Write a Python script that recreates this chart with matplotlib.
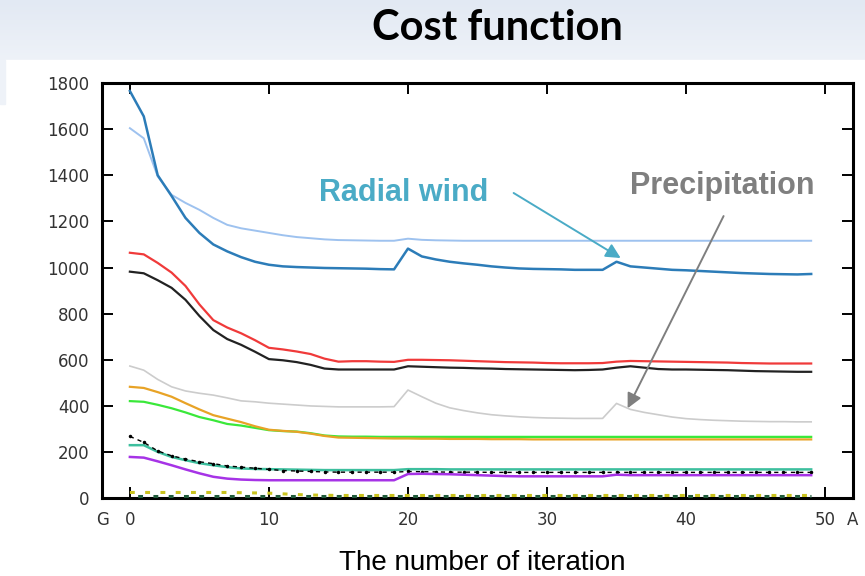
import numpy as np
import matplotlib.pyplot as plt
from matplotlib.patches import Rectangle

# iterations 0..49
iters = list(range(50))

radial_wind = [1765, 1655, 1400, 1310, 1215, 1150, 1100, 1070, 1045, 1025,
               1012, 1005, 1002, 1000, 998, 997, 996, 995, 993, 992,
               1082, 1048, 1035, 1025, 1018, 1012, 1005, 1000, 996, 994,
               993, 992, 990, 990, 990, 1025, 1005, 1000, 995, 990,
               988, 985, 982, 979, 976, 974, 972, 971, 970, 972]
light_blue = [1604, 1560, 1395, 1315, 1280, 1250, 1215, 1185, 1170, 1160,
              1150, 1140, 1132, 1127, 1122, 1119, 1118, 1117, 1116, 1116,
              1125, 1120, 1118, 1117, 1116, 1116, 1116, 1116, 1116, 1116,
              1116, 1116, 1116, 1116, 1116, 1116, 1116, 1116, 1116, 1116,
              1116, 1116, 1116, 1116, 1116, 1116, 1116, 1116, 1116, 1116]
red = [1064, 1057, 1020, 978, 920, 840, 772, 740, 715, 685,
       652, 645, 636, 625, 605, 592, 594, 594, 592, 591,
       600, 600, 599, 598, 596, 594, 592, 590, 589, 588,
       586, 585, 585, 585, 586, 592, 595, 594, 593, 592,
       591, 590, 589, 588, 586, 585, 584, 584, 584, 584]
black = [982, 975, 945, 912, 860, 790, 729, 690, 665, 635,
         603, 598, 590, 578, 562, 558, 558, 558, 558, 558,
         572, 570, 568, 566, 565, 563, 562, 560, 559, 558,
         557, 556, 555, 556, 558, 566, 572, 566, 560, 558,
         558, 557, 556, 555, 553, 551, 550, 549, 548, 548]
precipitation = [573, 555, 515, 483, 465, 455, 447, 435, 422, 418,
                 412, 408, 404, 400, 398, 396, 396, 396, 396, 397,
                 469, 440, 412, 392, 380, 370, 362, 357, 353, 350,
                 348, 347, 346, 346, 346, 411, 385, 372, 362, 352,
                 345, 341, 338, 336, 334, 333, 332, 332, 331, 331]
orange = [483, 478, 460, 440, 412, 385, 360, 345, 330, 312,
          297, 292, 288, 280, 270, 263, 262, 261, 260, 259,
          259, 258, 258, 257, 257, 257, 256, 256, 256, 255,
          255, 255, 255, 255, 255, 255, 255, 255, 255, 255,
          255, 255, 255, 255, 255, 255, 255, 255, 255, 255]
green = [421, 418, 405, 390, 372, 352, 338, 322, 315, 305,
         295, 291, 289, 282, 272, 268, 267, 267, 266, 266,
         266, 266, 266, 266, 266, 266, 266, 266, 266, 266,
         266, 266, 266, 266, 266, 266, 266, 266, 266, 266,
         266, 266, 266, 266, 266, 266, 266, 266, 266, 266]
teal = [230, 230, 201, 179, 165, 152, 143, 135, 129, 127,
        126, 125, 124, 123, 122, 122, 122, 122, 122, 122,
        126, 126, 126, 125, 125, 125, 125, 125, 125, 125,
        125, 125, 125, 125, 125, 125, 125, 125, 125, 125,
        125, 125, 125, 125, 125, 125, 125, 125, 125, 125]
dotted = [268, 242, 205, 184, 170, 158, 150, 140, 135, 130,
          125, 120, 118, 116, 114, 113, 113, 113, 113, 113,
          116, 115, 114, 113, 113, 113, 112, 112, 112, 112,
          112, 112, 112, 112, 112, 112, 112, 112, 112, 112,
          112, 112, 112, 112, 112, 112, 112, 112, 112, 112]
purple = [179, 176, 160, 143, 125, 108, 93, 85, 81, 79,
          78, 78, 78, 78, 78, 78, 78, 78, 78, 78,
          105, 106, 105, 104, 102, 100, 98, 96, 95, 95,
          95, 95, 95, 95, 95, 102, 100, 100, 100, 100,
          100, 100, 100, 100, 100, 100, 100, 100, 100, 100]
yellow = [25, 25, 25, 25, 25, 25, 25, 25, 24, 23,
          22, 19, 16, 14, 13, 12, 12, 12, 12, 12,
          12, 12, 12, 12, 12, 12, 12, 12, 12, 12,
          12, 12, 12, 12, 12, 12, 12, 12, 12, 12,
          12, 12, 12, 12, 12, 12, 12, 12, 12, 12]
dark_green = [9] * 50

xtick_pos = [-2, 0, 10, 20, 30, 40, 50, 52]
xtick_labels = ['G', '0', '10', '20', '30', '40', '50', 'A']
ytick_pos = [0, 200, 400, 600, 800, 1000, 1200, 1400, 1600, 1800]

fig = plt.figure(figsize=(8.65, 5.76), dpi=100)

# slide-like background: bluish band at the top, white panel below
bg = fig.add_axes([0, 0, 1, 1], zorder=-10)
grad = np.linspace(0, 1, 100).reshape(-1, 1)
bg.imshow(grad, cmap=plt.matplotlib.colors.LinearSegmentedColormap.from_list(
    'band', ['#e2e9f3', '#eef2f8']), aspect='auto', extent=[0, 1, 0.896, 1])
bg.add_patch(Rectangle((0.006, 0), 1, 0.896, color='white'))
bg.add_patch(Rectangle((0, 0.82), 0.006, 0.076, color='#eef2f8'))
bg.set_xlim(0, 1)
bg.set_ylim(0, 1)
bg.axis('off')

ax = fig.add_axes([0.118, 0.135, 0.868, 0.721])
ax.plot(iters, light_blue, color='#9ec2ef', lw=1.4)
ax.plot(iters, radial_wind, color='#2c7cb8', lw=1.8)
ax.plot(iters, red, color='#f03a3a', lw=1.6)
ax.plot(iters, black, color='#222222', lw=1.6)
ax.plot(iters, precipitation, color='#cccccc', lw=1.2)
ax.plot(iters, green, color='#3ae83a', lw=1.6)
ax.plot(iters, orange, color='#e8a326', lw=1.6)
ax.plot(iters, teal, color='#3dbf9e', lw=1.8)
ax.plot(iters, dotted, color='black', lw=1.0, ls=(0, (3, 3)),
        marker='.', markersize=3)
ax.plot(iters, purple, color='#a633e6', lw=1.8)
ax.plot(iters, dark_green, color='#1f5a3a', lw=2.2, ls=(2.5, (1.6, 3.4)),
        clip_on=False)
ax.plot(iters, yellow, color='#c9c21e', lw=2.2, ls=(0, (1.6, 3.4)),
        clip_on=False)

ax.set_xlim(-2, 52)
ax.set_ylim(0, 1800)
ax.set_xticks(xtick_pos)
ax.set_xticklabels(xtick_labels)
ax.set_yticks(ytick_pos)
ax.tick_params(direction='in', length=8, width=1.4, top=True, right=True,
               labelsize=12, labelcolor='#333333', pad=9)
for side in ax.spines.values():
    side.set_linewidth(2.2)
    side.set_zorder(1)

# annotations
ax.text(19.7, 1323, 'Radial wind', color='#4aabc6', fontsize=22,
        fontweight='bold', ha='center', va='center', family='Liberation Sans')
ax.annotate('', xy=(35.3, 1041), xytext=(27.6, 1323),
            arrowprops=dict(arrowstyle='-|>', color='#4aabc6', lw=1.4,
                            mutation_scale=22, shrinkA=0, shrinkB=0))
ax.text(42.6, 1354, 'Precipitation', color='#7f7f7f', fontsize=22,
        fontweight='bold', ha='center', va='center', family='Liberation Sans')
ax.annotate('', xy=(35.8, 390), xytext=(42.7, 1223),
            arrowprops=dict(arrowstyle='-|>', color='#7f7f7f', lw=1.4,
                            mutation_scale=22, shrinkA=0, shrinkB=0))

fig.text(0.575, 0.951, 'Cost function', fontsize=30, fontweight='bold',
         ha='center', va='center', family='Lato')
fig.text(0.557, 0.022, 'The number of iteration', fontsize=20,
         ha='center', va='center', family='Liberation Sans')

fig.savefig('out.png', dpi=100)
